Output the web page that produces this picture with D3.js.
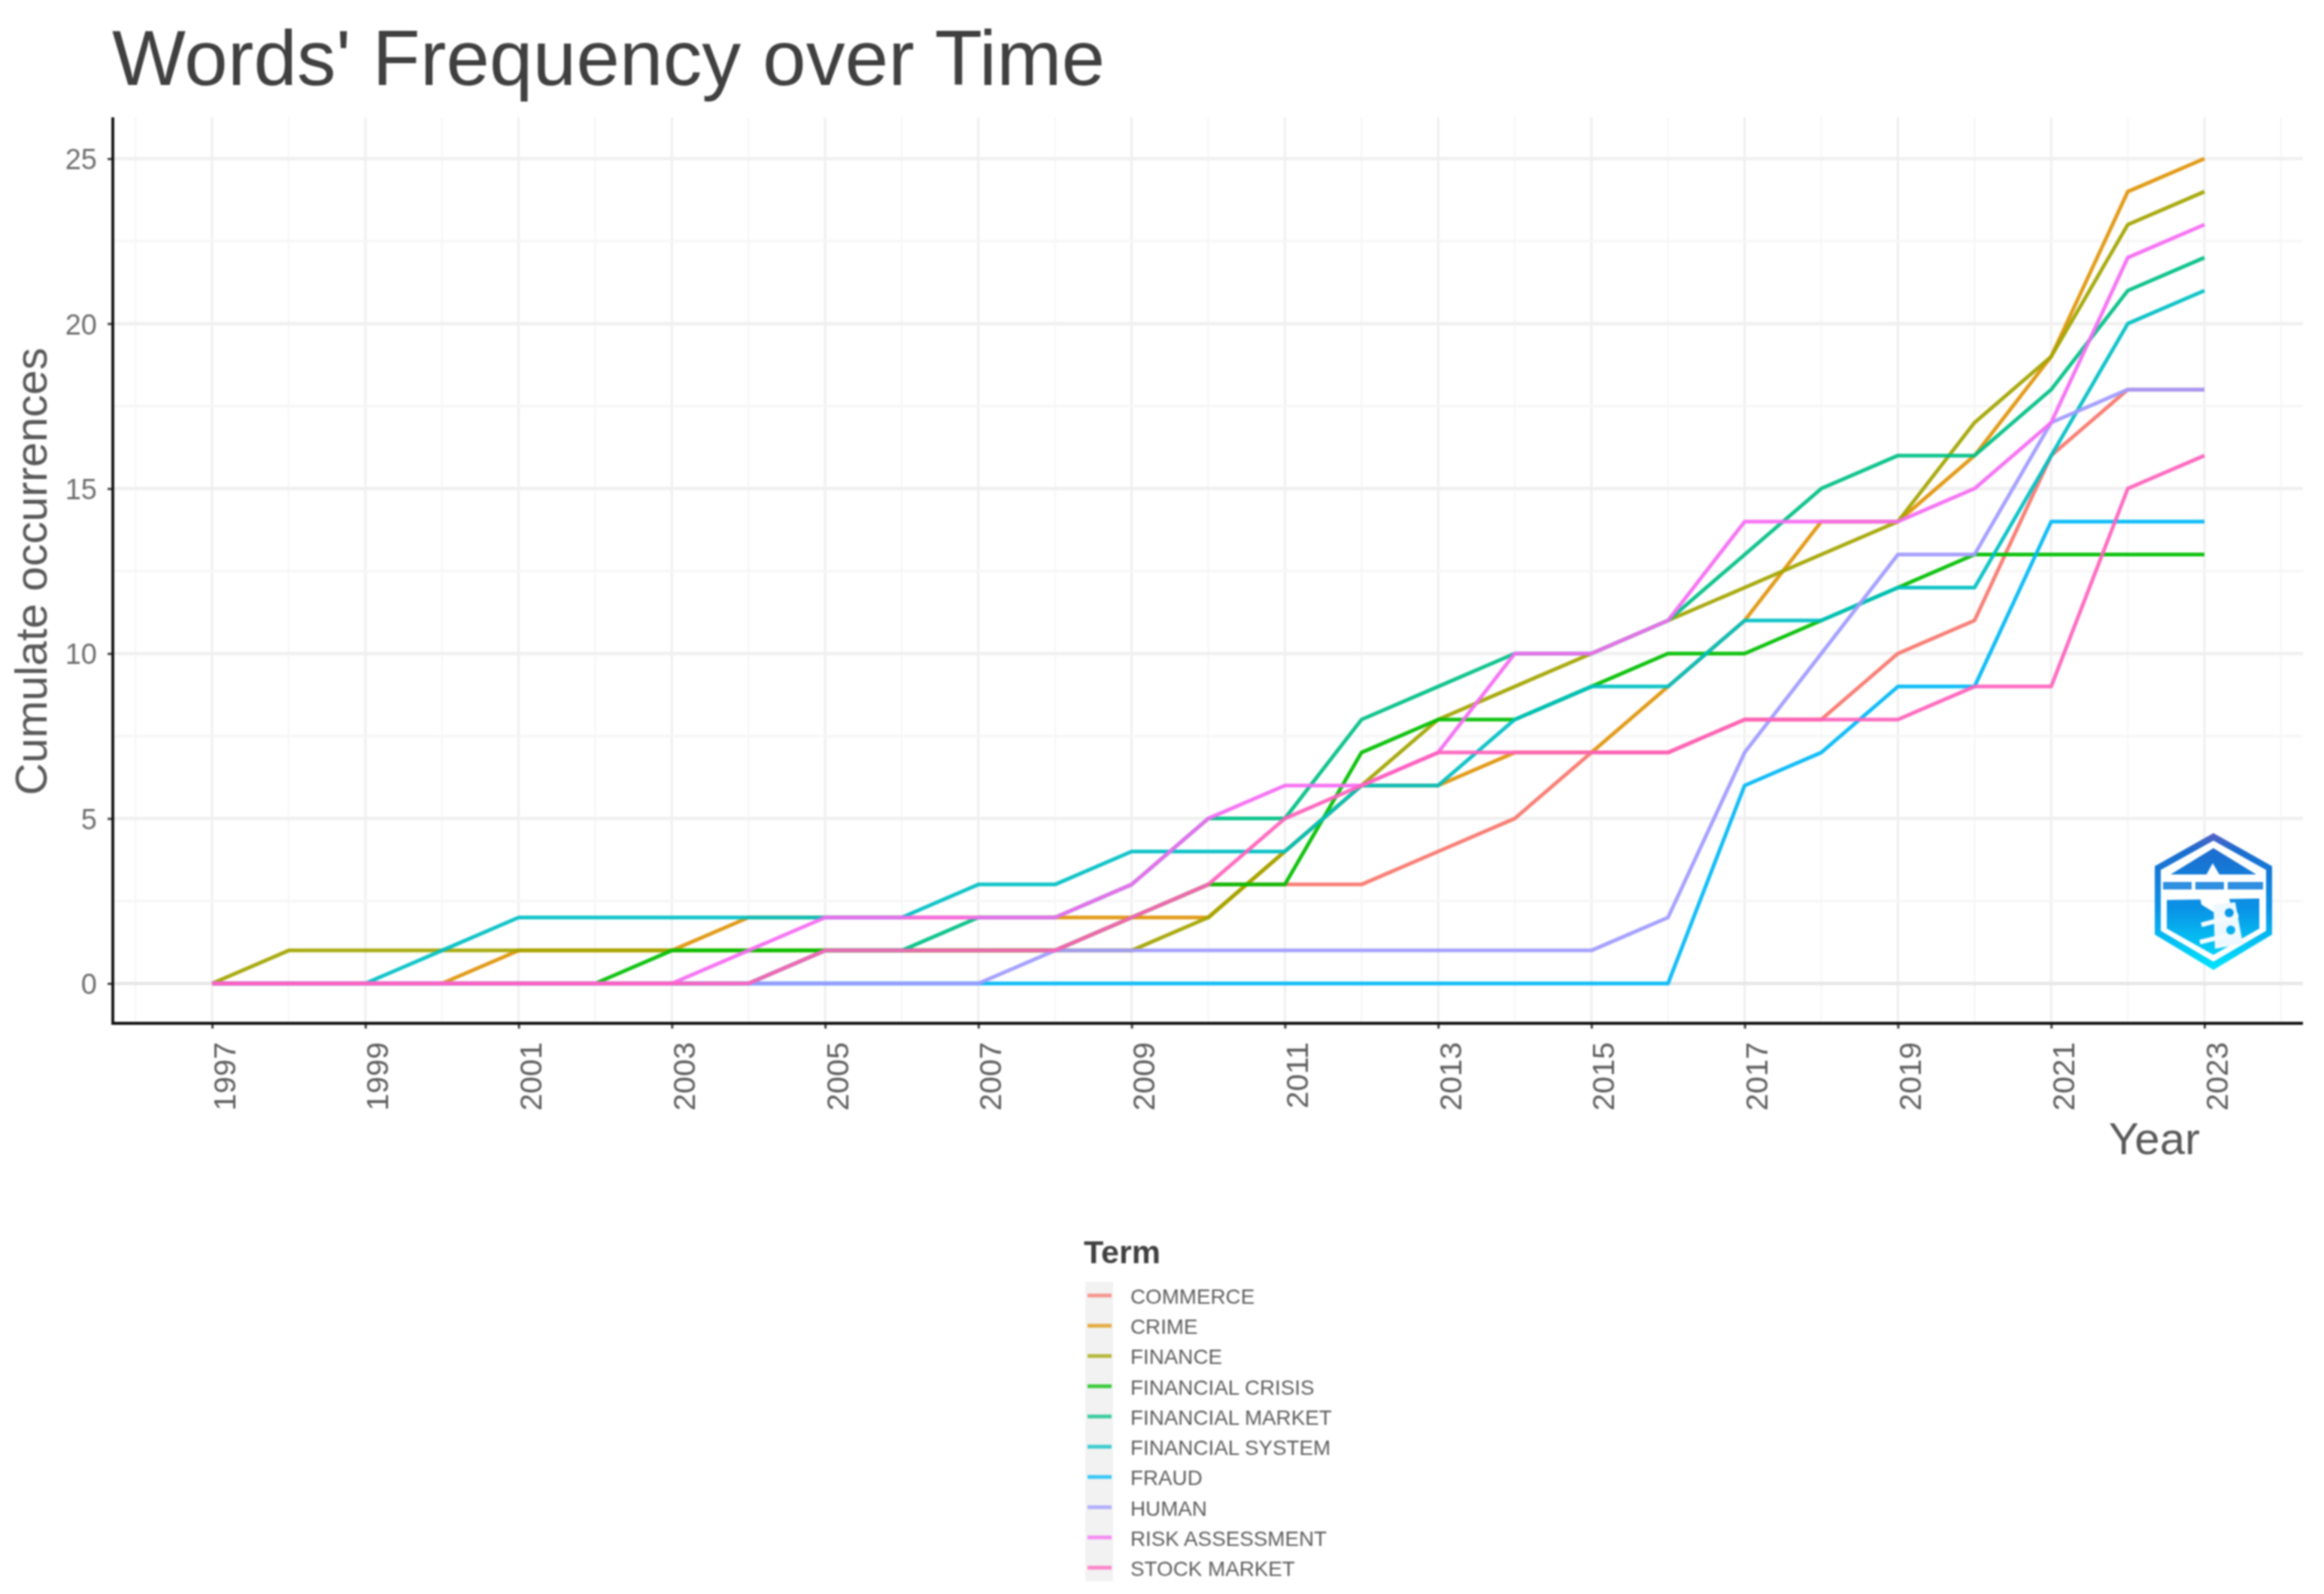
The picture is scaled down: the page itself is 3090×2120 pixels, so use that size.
<!DOCTYPE html>
<html><head><meta charset="utf-8">
<script src="https://cdnjs.cloudflare.com/ajax/libs/d3/7.8.5/d3.min.js"></script>
<style>
html,body{margin:0;padding:0;background:#fff}
svg{display:block;filter:blur(1.3px)}
text{font-family:"Liberation Sans",Arial,sans-serif}
</style></head><body>
<svg id="c" width="3090" height="2120"></svg>
<script>
const years = d3.range(1997, 2024);
const terms = ["COMMERCE","CRIME","FINANCE","FINANCIAL CRISIS","FINANCIAL MARKET","FINANCIAL SYSTEM","FRAUD","HUMAN","RISK ASSESSMENT","STOCK MARKET"];
const commerce        = [0,0,0,0,0,0,0,0,1,1,1,1,2,3,3,3,4,5,7,7,8,8,10,11,16,18,18];
const crime           = [0,0,0,0,1,1,1,2,2,2,2,2,2,2,4,6,6,7,7,9,11,14,14,16,19,24,25];
const finance         = [0,1,1,1,1,1,1,1,1,1,1,1,1,2,4,6,8,9,10,11,12,13,14,17,19,23,24];
const financialCrisis = [0,0,0,0,0,0,1,1,1,1,1,1,2,3,3,7,8,8,9,10,10,11,12,13,13,13,13];
const financialMarket = [0,0,0,0,0,0,0,0,1,1,2,2,3,5,5,8,9,10,10,11,13,15,16,16,18,21,22];
const financialSystem = [0,0,0,1,2,2,2,2,2,2,3,3,4,4,4,6,6,8,9,9,11,11,12,12,16,20,21];
const fraud           = [0,0,0,0,0,0,0,0,0,0,0,0,0,0,0,0,0,0,0,0,6,7,9,9,14,14,14];
const human           = [0,0,0,0,0,0,0,0,0,0,0,1,1,1,1,1,1,1,1,2,7,10,13,13,17,18,18];
const riskAssessment  = [0,0,0,0,0,0,0,1,2,2,2,2,3,5,6,6,7,10,10,11,14,14,14,15,17,22,23];
const stockMarket     = [0,0,0,0,0,0,0,0,1,1,1,1,2,3,5,6,7,7,7,7,8,8,8,9,9,15,16];
const seriesValues = [commerce,crime,finance,financialCrisis,financialMarket,financialSystem,fraud,human,riskAssessment,stockMarket];
const colors = ["#F8766D","#E0940A","#A3A500","#00BE00","#00BF85","#00BFC4","#00B8F6","#9F9AFF","#F56BF3","#FF62BC"];
const xTickLabels = d3.range(1997, 2024, 2);
const yTickLabels = [0,5,10,15,20,25];

const svg = d3.select("#c");
const x = d3.scaleLinear().domain([1997,2023]).range([282,2931]);
const y = d3.scaleLinear().domain([0,25]).range([1308,211]);
const L=150,R=3062,T=156,B=1361;

// grid
const g = svg.append("g");
const xMinor = d3.range(1996,2026,2).filter(v=>x(v)<R);
g.selectAll(".vm").data(xMinor).join("line").attr("x1",d=>x(d)).attr("x2",d=>x(d)).attr("y1",T).attr("y2",B).attr("stroke","#f6f6f6").attr("stroke-width",2);
g.selectAll(".vM").data(xTickLabels).join("line").attr("x1",d=>x(d)).attr("x2",d=>x(d)).attr("y1",T).attr("y2",B).attr("stroke","#efefef").attr("stroke-width",3);
g.selectAll(".hm").data([2.5,7.5,12.5,17.5,22.5]).join("line").attr("x1",L).attr("x2",R).attr("y1",d=>y(d)).attr("y2",d=>y(d)).attr("stroke","#f6f6f6").attr("stroke-width",3);
g.selectAll(".hM").data(yTickLabels).join("line").attr("x1",L).attr("x2",R).attr("y1",d=>y(d)).attr("y2",d=>y(d)).attr("stroke",d=>d===0?"#e6e6e6":"#f0f0f0").attr("stroke-width",4.5);

// logo
const defs = svg.append("defs");
const grad = defs.append("linearGradient").attr("id","lg").attr("gradientUnits","userSpaceOnUse").attr("x1",0).attr("x2",0).attr("y1",1108).attr("y2",1290);
[[0,"#5a62c4"],[.12,"#1c6cce"],[.55,"#0a93e6"],[1,"#00e6ff"]].forEach(s=>grad.append("stop").attr("offset",s[0]).attr("stop-color",s[1]));
const logo = svg.append("g");
const poly = (pts,fill)=>logo.append("polygon").attr("points",pts.map(p=>p.join(",")).join(" ")).attr("fill",fill);
const bar = (a,b)=>logo.append("line").attr("x1",a[0]).attr("y1",a[1]).attr("x2",b[0]).attr("y2",b[1]).attr("stroke","#f4fbff").attr("stroke-width",6);
poly([[2943,1108],[3021,1152],[3021,1243],[2943,1290],[2865,1243],[2865,1152]],"url(#lg)");
poly([[2943,1118],[3013,1157],[3013,1238],[2943,1279],[2873,1238],[2873,1157]],"#fff");
poly([[2943,1128],[3000,1163],[2886,1163]],"url(#lg)");
poly([[2881,1197],[3004,1195],[3004,1235],[2943,1270],[2881,1235]],"url(#lg)");
logo.append("line").attr("x1",2876).attr("x2",3009).attr("y1",1178).attr("y2",1178).attr("stroke","#2f8fe0").attr("stroke-width",10).attr("stroke-dasharray","38 5 38 5 47");
poly([[2942,1148],[2955,1170],[2930,1170]],"#fff");
poly([[2925,1192],[2963,1192],[2966,1203],[2943,1213],[2927,1203]],"#fff");
poly([[2943,1203],[2972,1200],[2982,1255],[2945,1262]],"#eef8ff");
bar([2927,1230],[2976,1217]);
bar([2925,1253],[2978,1240]);
logo.append("circle").attr("cx",2964).attr("cy",1214).attr("r",6).attr("fill","url(#lg)");
logo.append("circle").attr("cx",2966).attr("cy",1237).attr("r",6).attr("fill","url(#lg)");

// axes
const axL = svg.append("g").attr("transform",`translate(${L},0)`).call(d3.axisLeft(y).tickValues(yTickLabels).tickSize(7).tickPadding(14).tickFormat(d3.format("d")));
axL.select(".domain").remove();
axL.selectAll("line").attr("stroke","#444").attr("stroke-width",3);
axL.selectAll("text").attr("font-size",38).attr("fill","#6e6e6e").attr("dy","0.36em");
axL.append("line").attr("x1",0).attr("x2",0).attr("y1",T).attr("y2",B+2).attr("stroke","#111").attr("stroke-width",3.8);

const axB = svg.append("g").attr("transform",`translate(0,${B})`).call(d3.axisBottom(x).tickValues(xTickLabels).tickSize(7).tickFormat(d3.format("d")));
axB.select(".domain").remove();
axB.selectAll("line").attr("stroke","#444").attr("stroke-width",3);
axB.selectAll("text").attr("font-size",41).attr("fill","#5e5e5e").attr("text-anchor","end").attr("dy",0).attr("y",0).attr("x",0)
  .attr("transform",`translate(30,25) rotate(-90)`);
axB.append("line").attr("x1",L).attr("x2",R).attr("y1",0).attr("y2",0).attr("stroke","#111").attr("stroke-width",3.8);

// lines
const line = d3.line().x((d,i)=>x(years[i])).y(d=>y(d));
svg.append("g").selectAll("path").data(seriesValues).join("path").attr("d",line).attr("fill","none")
  .attr("stroke",(d,i)=>colors[i]).attr("stroke-width",5).attr("stroke-opacity",.93).attr("stroke-linejoin","round");

// titles
svg.append("text").attr("x",149).attr("y",113).attr("font-size",103.7).attr("fill","#404040").text("Words' Frequency over Time");
svg.append("text").attr("transform","translate(62,760) rotate(-90)").attr("text-anchor","middle").attr("font-size",59.5).attr("fill","#595959").text("Cumulate occurrences");
svg.append("text").attr("x",2925).attr("y",1535).attr("text-anchor","end").attr("font-size",60).attr("fill","#595959").text("Year");

// legend
const legendRow = d3.scaleLinear().domain([0,9]).range([1723,2085]);
svg.append("rect").attr("x",1443).attr("y",1705).attr("width",37).attr("height",398).attr("fill","#f2f2f2");
svg.append("text").attr("x",1441).attr("y",1680).attr("font-size",43).attr("font-weight","bold").attr("fill","#404040").text("Term");
const lg = svg.append("g").selectAll("g").data(terms).join("g").attr("transform",(d,i)=>`translate(0,${legendRow(i)})`);
lg.append("line").attr("x1",1446).attr("x2",1478).attr("stroke",(d,i)=>colors[i]).attr("stroke-width",5).attr("stroke-opacity",.75);
lg.append("text").attr("x",1503).attr("y",11).attr("font-size",27.8).attr("fill","#5e5e5e").text(d=>d);
</script>
</body></html>
